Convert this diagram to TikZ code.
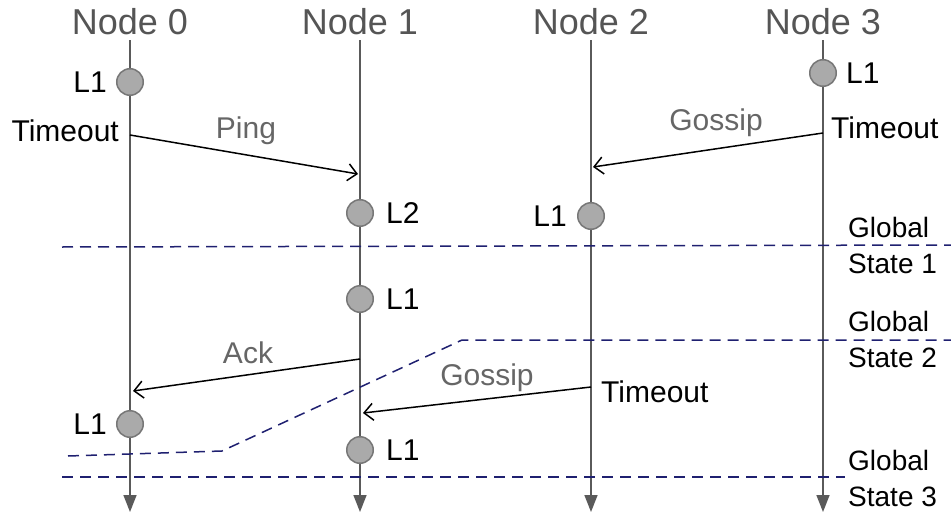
\documentclass[tikz,border=0pt]{standalone}
\usepackage{fontspec}
\setmainfont{Liberation Sans}
\usetikzlibrary{arrows.meta}
\definecolor{lifegray}{HTML}{5A5A5A}
\definecolor{hdrgray}{HTML}{555555}
\definecolor{msggray}{HTML}{666666}
\definecolor{evfill}{HTML}{AAAAAA}
\definecolor{evdraw}{HTML}{777777}
\definecolor{gsnavy}{HTML}{1F2070}
\begin{document}
\begin{tikzpicture}[x=1pt,y=-1pt,
  hdr/.style={text=hdrgray, font=\fontsize{36}{40}\selectfont, inner sep=0pt},
  lifeline/.style={draw=lifegray, line width=1.5pt, -{Triangle[length=17pt,width=13pt]}},
  evt/.style={circle, draw=evdraw, fill=evfill, line width=1.5pt, minimum size=26.5pt, inner sep=0pt},
  lbl/.style={font=\fontsize{30}{32}\selectfont, text=black, inner sep=0pt},
  msglbl/.style={font=\fontsize{30}{32}\selectfont, text=msggray, inner sep=0pt},
  msg/.style={draw=black, line width=1.5pt, -{Straight Barb[length=9pt,width=17pt,line width=1.5pt]}},
  gsline/.style={draw=gsnavy, line width=1.5pt, dash pattern=on 11pt off 7pt},
  gslbl/.style={font=\fontsize{28}{36}\selectfont, align=left, anchor=west, inner sep=0pt}
]
\useasboundingbox (0,0) rectangle (951,514);

% headers
\node[hdr] (h0) at (130,22) {Node 0};
\node[hdr] (h1) at (360,22) {Node 1};
\node[hdr] (h2) at (591,22) {Node 2};
\node[hdr] (h3) at (823,22) {Node 3};

% lifeline coordinates
\coordinate (t0) at (130,40); \coordinate (b0) at (130,512);
\coordinate (t1) at (360,40); \coordinate (b1) at (360,512);
\coordinate (t2) at (591,40); \coordinate (b2) at (591,512);
\coordinate (t3) at (823,40); \coordinate (b3) at (823,512);
\draw[lifeline] (t0) -- (b0);
\draw[lifeline] (t1) -- (b1);
\draw[lifeline] (t2) -- (b2);
\draw[lifeline] (t3) -- (b3);

% dashed global state lines
\coordinate (g1a) at (62,247); \coordinate (g1b) at (951,245);
\draw[gsline] (g1a) -- (g1b);
\coordinate (g2a) at (68,456); \coordinate (g2b) at (222,451);
\coordinate (g2c) at (462,340); \coordinate (g2d) at (951,340);
\draw[gsline] (g2a) -- (g2b) -- (g2c) -- (g2d);
\coordinate (g3a) at (62,477); \coordinate (g3b) at (845,477);
\draw[gsline] (g3a) -- (g3b);

% events
\node[evt] (e01) at (130,82) {};
\node[lbl, anchor=east] (l01) at (107,82) {L1};
\node[evt] (e02) at (130,424) {};
\node[lbl, anchor=east] (l02) at (107,424) {L1};
\node[evt] (e11) at (360,213) {};
\node[lbl, anchor=west] (l11) at (386,213) {L2};
\node[evt] (e12) at (360,299) {};
\node[lbl, anchor=west] (l12) at (386,299) {L1};
\node[evt] (e13) at (360,450) {};
\node[lbl, anchor=west] (l13) at (386,450) {L1};
\node[evt] (e21) at (591,216) {};
\node[lbl, anchor=east] (l21) at (567,216) {L1};
\node[evt] (e31) at (823,73) {};
\node[lbl, anchor=west] (l31) at (846,73) {L1};

% timeouts
\node[lbl, anchor=east] (to0) at (119,131) {Timeout};
\node[lbl, anchor=west] (to3) at (831,128) {Timeout};
\node[lbl, anchor=west] (to2) at (601,392) {Timeout};

% messages
\coordinate (ps) at (130,135); \coordinate (pe) at (358,174);
\draw[msg] (ps) -- (pe);
\node[msglbl] (ping) at (246,131) {Ping};

\coordinate (gs) at (823,133); \coordinate (ge) at (593,167);
\draw[msg] (gs) -- (ge);
\node[msglbl] (goss1) at (716,123) {Gossip};

\coordinate (as) at (360,359); \coordinate (ae) at (133,391);
\draw[msg] (as) -- (ae);
\node[msglbl] (ack) at (248,353) {Ack};

\coordinate (bs) at (591,387); \coordinate (be) at (363,413);
\draw[msg] (bs) -- (be);
\node[msglbl] (goss2) at (487,378) {Gossip};

% global state labels
\node[gslbl] (gsl1) at (848,245) {Global\\State 1};
\node[gslbl] (gsl2) at (848,339) {Global\\State 2};
\node[gslbl] (gsl3) at (848,478) {Global\\State 3};
\end{tikzpicture}
\end{document}
